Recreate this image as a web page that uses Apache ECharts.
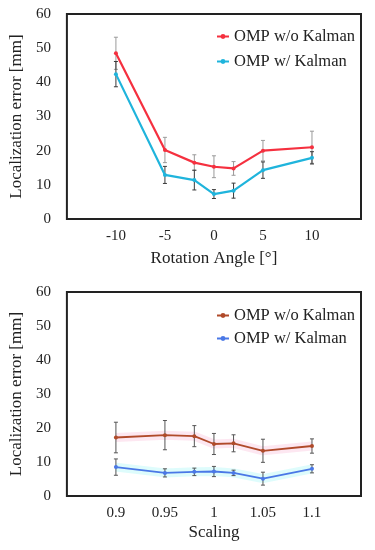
<!DOCTYPE html>
<html><head><meta charset="utf-8">
<script src="https://cdn.jsdelivr.net/npm/echarts@6/dist/echarts.min.js"></script>
<style>html,body{margin:0;padding:0;background:#fff}#c{width:375px;height:550px}</style>
</head><body><div id="c"></div>
<script>
// ---- data ----
const topX = [-10, -5, -2, 0, 2, 5, 10];
const topNoKalman = [48.5, 20.2, 16.5, 15.3, 14.8, 20.0, 21.0];
const topNoKalmanErr = [4.7, 3.7, 2.3, 3.2, 2.0, 3.0, 4.7];
const topKalman = [42.4, 12.9, 11.4, 7.3, 8.3, 14.3, 17.9];
const topKalmanErr = [3.7, 2.5, 2.9, 1.3, 2.2, 2.4, 1.8];
const topTicks = [-10, -5, 0, 5, 10];

const botX = [0.9, 0.95, 0.98, 1, 1.02, 1.05, 1.1];
const botNoKalman = [17.2, 17.9, 17.6, 15.3, 15.5, 13.3, 14.7];
const botNoKalmanErr = [4.5, 4.3, 3.1, 3.1, 2.5, 3.4, 2.1];
const botKalman = [8.5, 6.8, 7.1, 7.2, 6.8, 5.1, 8.0];
const botKalmanErr = [2.4, 1.2, 1.1, 1.5, 0.8, 1.9, 1.2];
const botTicks = [0.9, 0.95, 1, 1.05, 1.1];

const yTicks = [0, 10, 20, 30, 40, 50, 60];
const nameA = 'OMP w/o Kalman', nameB = 'OMP w/ Kalman';
const xTitleTop = 'Rotation Angle [\u00b0]', xTitleBot = 'Scaling', yTitle = 'Localization error [mm]';

// ---- helpers ----
const FONT = "'Liberation Serif','Times New Roman',serif";
const pts = (xs, ys) => xs.map((x, i) => [x, ys[i]]);
const errs = (xs, ys, es) => xs.map((x, i) => [x, ys[i] - es[i], ys[i] + es[i]]);
function errSeries(data, color, gi) {
  return {
    type: 'custom', xAxisIndex: gi, yAxisIndex: gi, data: data, silent: true, z: 1,
    encode: { x: 0, y: [1, 2] },
    renderItem: function (params, api) {
      const x = api.value(0), lo = api.value(1), hi = api.value(2);
      const a = api.coord([x, lo]), b = api.coord([x, hi]);
      const c = 2;
      const st = { stroke: color, lineWidth: 1 };
      return { type: 'group', children: [
        { type: 'line', shape: { x1: a[0], y1: a[1], x2: b[0], y2: b[1] }, style: st },
        { type: 'line', shape: { x1: a[0] - c, y1: a[1], x2: a[0] + c, y2: a[1] }, style: st },
        { type: 'line', shape: { x1: b[0] - c, y1: b[1], x2: b[0] + c, y2: b[1] }, style: st }
      ] };
    }
  };
}
function lineSeries(name, data, color, gi, w) {
  return { name: name, type: 'line', xAxisIndex: gi, yAxisIndex: gi, data: data, z: 3,
    symbol: 'circle', symbolSize: 4, showSymbol: true,
    lineStyle: { color: color, width: w }, itemStyle: { color: color } };
}
function bandSeries(data, color, gi) {
  return { type: 'line', xAxisIndex: gi, yAxisIndex: gi, data: data, z: 0, silent: true,
    symbol: 'none', lineStyle: { color: color, width: 9, cap: 'butt' } };
}
function xAxis(gi, min, max, interval, ticks, title, gap, fmt) {
  return { type: 'value', gridIndex: gi, min: min, max: max, interval: interval,
    axisLine: { show: false }, axisTick: { show: false }, splitLine: { show: false },
    axisLabel: { fontFamily: FONT, fontSize: 15, color: '#222', margin: 10,
      formatter: v => ticks.some(t => Math.abs(t - v) < 1e-6) ? fmt(v) : '' },
    name: title, nameLocation: 'middle', nameGap: gap,
    nameTextStyle: { fontFamily: FONT, fontSize: 17, color: '#222' } };
}
function yAxis(gi) {
  return { type: 'value', gridIndex: gi, min: yTicks[0], max: yTicks[yTicks.length - 1], interval: 10,
    axisLine: { show: false }, axisTick: { show: false }, splitLine: { show: false },
    axisLabel: { fontFamily: FONT, fontSize: 15, color: '#222', margin: 16 },
    name: yTitle, nameLocation: 'middle', nameGap: 38, nameRotate: 90,
    nameTextStyle: { fontFamily: FONT, fontSize: 17, color: '#222' } };
}
const legendText = { fontFamily: FONT, fontSize: 16.5, color: '#222' };

const chart = echarts.init(document.getElementById('c'), null, { renderer: 'canvas' });
chart.setOption({
  animation: false,
  backgroundColor: '#fff',
  grid: [
    { left: 65, right: 14, top: 14, height: 205, show: true, borderColor: '#222', borderWidth: 2 },
    { left: 65, right: 14, top: 292, height: 204, show: true, borderColor: '#222', borderWidth: 2 }
  ],
  xAxis: [
    xAxis(0, -15, 15, 5, topTicks, xTitleTop, 31, v => String(v)),
    xAxis(1, 0.85, 1.15, 0.05, botTicks, xTitleBot, 28, v => String(+v.toFixed(2)))
  ],
  yAxis: [yAxis(0), yAxis(1)],
  legend: [
    { data: [nameA, nameB], orient: 'vertical', left: 211, top: 23, itemWidth: 12, itemHeight: 6,
      itemGap: 8, textStyle: legendText, selectedMode: false },
    { data: [nameA + '#2', nameB + '#2'], orient: 'vertical', left: 211, top: 302, itemWidth: 12, itemHeight: 6,
      itemGap: 6, textStyle: legendText, selectedMode: false, formatter: n => n.replace('#2', '') }
  ],
  series: [
    errSeries(errs(topX, topNoKalman, topNoKalmanErr), '#9a9a9a', 0),
    errSeries(errs(topX, topKalman, topKalmanErr), '#3a3a3a', 0),
    lineSeries(nameA, pts(topX, topNoKalman), '#f5303f', 0, 2.2),
    lineSeries(nameB, pts(topX, topKalman), '#1fb4dc', 0, 2.2),
    bandSeries(pts(botX, botNoKalman), 'rgba(252,215,232,0.6)', 1),
    bandSeries(pts(botX, botKalman), 'rgba(200,250,250,0.6)', 1),
    errSeries(errs(botX, botNoKalman, botNoKalmanErr), '#555', 1),
    errSeries(errs(botX, botKalman, botKalmanErr), '#555', 1),
    lineSeries(nameA + '#2', pts(botX, botNoKalman), '#b04a2a', 1, 1.8),
    lineSeries(nameB + '#2', pts(botX, botKalman), '#4a78e6', 1, 1.8)
  ]
});
</script></body></html>
